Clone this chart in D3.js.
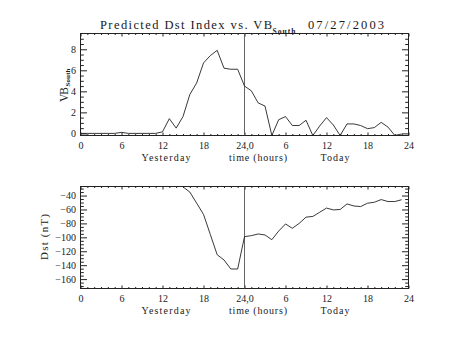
<!DOCTYPE html>
<html><head><meta charset="utf-8">
<script src="https://cdn.jsdelivr.net/npm/d3@7/dist/d3.min.js"></script>
<style>
html,body{margin:0;padding:0;background:#fff;}
svg{display:block;}
text{font-family:"Liberation Serif","DejaVu Serif",serif;fill:#1a1a1a;}
</style></head>
<body>
<svg id="c" width="453" height="340"></svg>
<script>
// ---- data ----
const hoursVB = d3.range(0, 48);
const vbSouth = [0,0,0,0,0,0,0.1,0,0,0,0,0,0.15,1.4,0.5,1.6,3.7,4.8,6.7,7.4,7.9,6.2,6.1,6.1,
                 4.5,4.05,2.9,2.6,-0.2,1.3,1.6,0.75,0.75,1.25,-0.2,0.7,1.5,0.8,-0.2,0.9,0.9,0.75,0.45,0.55,1.05,0.6,-0.2,-0.05];
const hoursDst = d3.range(15, 48);
const dstValues = [-27.5,-35,-51,-67,-96,-125,-132.5,-145.5,-145.5,
                   -99,-97.6,-95.2,-96.6,-103.4,-91,-80.8,-87,-80,-71,-70,-64,-58,-60.6,-60,-52,-55,-55.8,-51,-49.6,-45.8,-48.6,-48.6,-46];
const xTickValues = [0,6,12,18,24,30,36,42,48];
const xTickLabels = ["0","6","12","18","24,0","6","12","18","24"];
const vbTicks = [0,2,4,6,8];
const dstTicks = [-40,-60,-80,-100,-120,-140,-160];

const svg = d3.select("#c");
const L = 80.5, R = 408.5;
const x = d3.scaleLinear().domain([0,48]).range([L,R]);

function panel(top, bottom, yDomain, yMajor, yMinorStep, xs, ys, id) {
  const y = d3.scaleLinear().domain(yDomain).range([bottom, top]);
  const g = svg.append("g");
  const xMinor = d3.range(0,49,1).filter(v=>v%6!==0);
  const yMinor = d3.range(Math.ceil(yDomain[0]/yMinorStep)*yMinorStep, yDomain[1], yMinorStep)
                  .filter(v=>!yMajor.includes(Math.round(v*100)/100));
  const mk = (axis, tr) => g.append("g").attr("transform", tr).call(axis).call(s=>s.select(".domain").remove());
  mk(d3.axisBottom(x).tickValues(xMinor).tickSize(-1.5).tickFormat(""), `translate(0,${bottom})`);
  mk(d3.axisTop(x).tickValues(xMinor).tickSize(-1.5).tickFormat(""), `translate(0,${top})`);
  mk(d3.axisTop(x).tickValues(xTickValues).tickSize(-3).tickFormat(""), `translate(0,${top})`);
  mk(d3.axisLeft(y).tickValues(yMinor).tickSize(-3.3).tickFormat(""), `translate(${L},0)`);
  mk(d3.axisRight(y).tickValues(yMinor).tickSize(-3.3).tickFormat(""), `translate(${R},0)`);
  mk(d3.axisRight(y).tickValues(yMajor).tickSize(-6.5).tickFormat(""), `translate(${R},0)`);
  const xa = mk(d3.axisBottom(x).tickValues(xTickValues).tickSize(-3).tickPadding(6.5)
               .tickFormat((d,i)=>xTickLabels[i]), `translate(0,${bottom})`);
  const ya = mk(d3.axisLeft(y).tickValues(yMajor).tickSize(-6.5).tickPadding(4.5), `translate(${L},0)`);
  g.selectAll(".tick line").attr("stroke","#222");
  [xa,ya].forEach(a=>a.attr("font-family",null).attr("font-size",10).selectAll("text").attr("fill","#1a1a1a"));
  g.append("rect").attr("x",L).attr("y",top).attr("width",R-L).attr("height",bottom-top)
    .attr("fill","none").attr("stroke","#222").attr("stroke-width",1);
  g.append("line").attr("x1",x(24)).attr("x2",x(24)).attr("y1",top).attr("y2",bottom)
    .attr("stroke","#555").attr("stroke-width",0.9);
  svg.append("clipPath").attr("id",id).append("rect").attr("x",L).attr("y",top).attr("width",R-L).attr("height",bottom-top);
  const line = d3.line().x((d,i)=>x(xs[i])).y(d=>y(d));
  g.append("path").datum(ys).attr("d",line).attr("fill","none").attr("stroke","#222")
    .attr("stroke-width",0.9).attr("clip-path",`url(#${id})`);
  const base = bottom + 25;
  const t = (cx, w, s) => g.append("text").attr("x",cx).attr("y",base).attr("text-anchor","middle")
    .attr("font-size",10).attr("textLength",w).attr("lengthAdjust","spacing").text(s);
  t(166, 49, "Yesterday");
  t(258, 58, "time (hours)");
  t(335, 29, "Today");
  return y;
}

panel(33.5, 135.5, [-0.2, 9.5], vbTicks, 0.5, hoursVB, vbSouth, "clipTop");
panel(186.5, 288.5, [-173.5, -27], dstTicks, 5, hoursDst, dstValues, "clipBot");

// title
svg.append("text").attr("x",100).attr("y",28.5).attr("font-size",12.5)
  .attr("textLength",172).attr("lengthAdjust","spacing").text("Predicted Dst Index vs. VB");
svg.append("text").attr("x",272.5).attr("y",33.5).attr("font-size",7.5).attr("font-weight","bold")
  .attr("textLength",23).attr("lengthAdjust","spacing").text("South");
svg.append("text").attr("x",308).attr("y",28.5).attr("font-size",12.5)
  .attr("textLength",76).attr("lengthAdjust","spacing").text("07/27/2003");

// y titles
const yt1 = svg.append("g").attr("transform","translate(67.5,102) rotate(-90)");
yt1.append("text").attr("x",0).attr("y",0).attr("font-size",11.5)
  .attr("textLength",15).attr("lengthAdjust","spacing").text("VB");
yt1.append("text").attr("x",15.5).attr("y",2.5).attr("font-size",7).attr("font-weight","bold")
  .attr("textLength",18).attr("lengthAdjust","spacing").text("South");
svg.append("g").attr("transform","translate(47.5,237) rotate(-90)")
  .append("text").attr("text-anchor","middle").attr("font-size",11)
  .attr("textLength",46).attr("lengthAdjust","spacing").text("Dst (nT)");
</script>
</body></html>
